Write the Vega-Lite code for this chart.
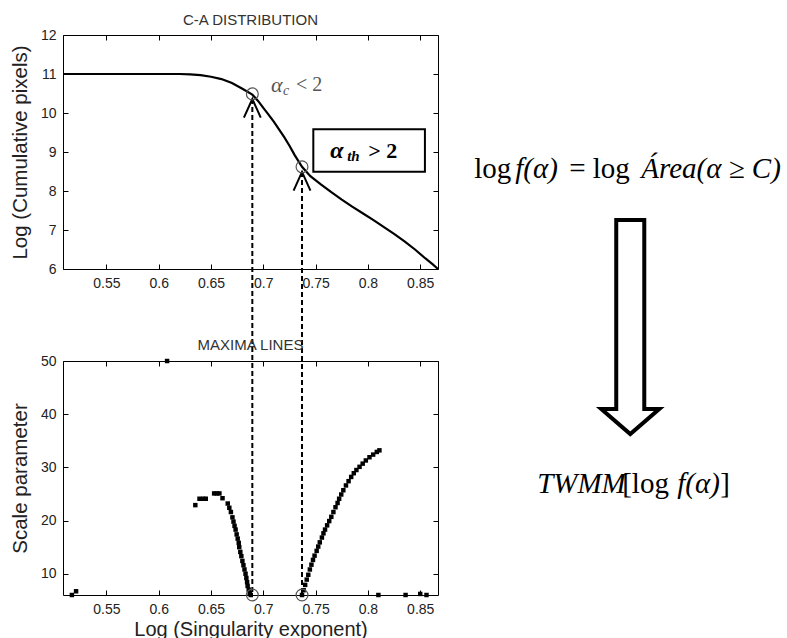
{
  "$schema": "https://vega.github.io/schema/vega-lite/v6.json",
  "background": "white",
  "padding": {"left": 9, "top": 12, "right": 2, "bottom": 0},
  "config": {
    "view": {"stroke": "black", "strokeWidth": 1},
    "font": "Liberation Sans",
    "axis": {"domain": false, "grid": false, "tickColor": "black", "tickSize": -5, "tickWidth": 1,
      "labelFont": "Liberation Sans", "labelFontSize": 14, "labelColor": "#222", "labelPadding": 12,
      "titleFont": "Liberation Sans", "titleFontSize": 20.5, "titleFontWeight": "normal", "titleColor": "#222"},
    "title": {"font": "Liberation Sans", "fontSize": 15, "fontWeight": "normal", "color": "#333", "anchor": "middle"}
  },
  "datasets": {
    "curve": [
      {"x":0.5085,"y":11.0},{"x":0.55,"y":11.0},{"x":0.6,"y":11.0},{"x":0.62,"y":11.0},{"x":0.63,"y":10.99},
      {"x":0.64,"y":10.97},{"x":0.65,"y":10.93},{"x":0.66,"y":10.87},{"x":0.67,"y":10.77},{"x":0.68,"y":10.62},
      {"x":0.6895,"y":10.47},{"x":0.695,"y":10.31},{"x":0.7,"y":10.13},{"x":0.705,"y":9.96},{"x":0.71,"y":9.78},
      {"x":0.715,"y":9.58},{"x":0.72,"y":9.38},{"x":0.725,"y":9.16},{"x":0.73,"y":8.92},{"x":0.737,"y":8.62},
      {"x":0.745,"y":8.38},{"x":0.755,"y":8.17},{"x":0.765,"y":7.97},{"x":0.775,"y":7.78},{"x":0.785,"y":7.6},
      {"x":0.795,"y":7.43},{"x":0.805,"y":7.26},{"x":0.815,"y":7.08},{"x":0.825,"y":6.9},{"x":0.835,"y":6.71},
      {"x":0.845,"y":6.5},{"x":0.855,"y":6.27},{"x":0.862,"y":6.12},{"x":0.867,"y":6.0}
    ],
    "maxima": [
      {"x":0.517,"y":6.0},{"x":0.521,"y":6.7},{"x":0.608,"y":50},
      {"x":0.635,"y":22.9},{"x":0.639,"y":24.1},{"x":0.6425,"y":24.1},{"x":0.645,"y":24.1},{"x":0.653,"y":25.1},
      {"x":0.6555,"y":25.1},{"x":0.658,"y":25.1},{"x":0.661,"y":24.2},{"x":0.666,"y":23.2},{"x":0.6675,"y":22.4},
      {"x":0.669,"y":21.6},{"x":0.6705,"y":20.6},{"x":0.6715,"y":19.8},{"x":0.6725,"y":19.0},{"x":0.6735,"y":18.3},
      {"x":0.6745,"y":17.4},{"x":0.6755,"y":16.6},{"x":0.6765,"y":15.8},{"x":0.677,"y":15.0},{"x":0.678,"y":14.1},
      {"x":0.679,"y":13.3},{"x":0.68,"y":12.4},{"x":0.681,"y":11.6},{"x":0.682,"y":10.8},{"x":0.683,"y":10.0},
      {"x":0.6838,"y":9.2},{"x":0.6845,"y":8.4},{"x":0.685,"y":7.7},{"x":0.686,"y":7.0},{"x":0.687,"y":6.4},{"x":0.688,"y":6.0},
      {"x":0.737,"y":6.0},{"x":0.7385,"y":6.9},{"x":0.74,"y":7.9},{"x":0.7415,"y":8.9},{"x":0.743,"y":9.8},
      {"x":0.7445,"y":10.8},{"x":0.746,"y":11.7},{"x":0.7475,"y":12.6},{"x":0.749,"y":13.4},{"x":0.751,"y":14.3},
      {"x":0.7525,"y":15.1},{"x":0.754,"y":15.9},{"x":0.756,"y":16.8},{"x":0.7575,"y":17.6},{"x":0.759,"y":18.3},
      {"x":0.761,"y":19.1},{"x":0.763,"y":19.9},{"x":0.765,"y":20.7},{"x":0.767,"y":21.6},{"x":0.769,"y":22.5},
      {"x":0.771,"y":23.3},{"x":0.7725,"y":24.1},{"x":0.7745,"y":24.9},{"x":0.7765,"y":25.7},{"x":0.779,"y":26.6},
      {"x":0.7815,"y":27.4},{"x":0.784,"y":28.2},{"x":0.7865,"y":28.9},{"x":0.789,"y":29.5},{"x":0.792,"y":30.1},
      {"x":0.795,"y":30.7},{"x":0.798,"y":31.3},{"x":0.8015,"y":31.9},{"x":0.805,"y":32.4},{"x":0.8085,"y":32.9},{"x":0.811,"y":33.2},
      {"x":0.81,"y":6.0},{"x":0.836,"y":6.0},{"x":0.85,"y":6.2},{"x":0.856,"y":6.0}
    ],
    "rules": [{"x":0.6895,"y":10.36,"y2":-2.333},{"x":0.737,"y":8.487,"y2":-2.333}],
    "chevrons": [{"x":0.6895,"y":10.12},{"x":0.737,"y":8.249}],
    "topCircles": [{"x":0.6895,"y":10.49},{"x":0.737,"y":8.62}],
    "bottomCircles": [{"x":0.6895,"y":6.0},{"x":0.737,"y":6.0}],
    "formula1": [
      {"t":"log","x":0.9016,"y":8.564,"it":false},
      {"t":"f(α)","x":0.9408,"y":8.564,"it":true},
      {"t":"= log","x":0.9924,"y":8.564,"it":false},
      {"t":"Área(α ≥ C)","x":1.0613,"y":8.564,"it":true}
    ],
    "formula2": [
      {"t":"TWMM","x":0.9618,"y":26.87,"it":true},
      {"t":"[log","x":1.0431,"y":26.87,"it":false},
      {"t":"f(α)","x":1.0957,"y":26.87,"it":true},
      {"t":"]","x":1.1368,"y":26.87,"it":false}
    ]
  },
  "bounds": "flush",
  "spacing": 92,
  "vconcat": [
    {
      "width": 375,
      "height": 234,
      "title": {"text": "C-A DISTRIBUTION", "offset": 0},
      "resolve": {"axis": {"x": "independent", "y": "independent"}},
      "layer": [
        {
          "data": {"name": "curve"},
          "mark": {"type": "line", "color": "black", "strokeWidth": 2.2},
          "encoding": {
            "x": {"field": "x", "type": "quantitative", "scale": {"domain": [0.5085, 0.867], "nice": false, "zero": false},
              "axis": {"values": [0.55,0.6,0.65,0.7,0.75,0.8,0.85], "format": ".2~f", "title": null, "labelOverlap": false}},
            "y": {"field": "y", "type": "quantitative", "scale": {"domain": [6, 12], "nice": false, "zero": false},
              "axis": {"values": [6,7,8,9,10,11,12], "title": "Log (Cumulative pixels)", "titlePadding": 10}}
          }
        },
        {
          "data": {"name": "curve"},
          "mark": {"type": "line", "opacity": 0},
          "encoding": {
            "x": {"field": "x", "type": "quantitative", "axis": {"orient": "top", "values": [0.55,0.6,0.65,0.7,0.75,0.8,0.85], "labels": false, "title": null}},
            "y": {"field": "y", "type": "quantitative", "axis": {"orient": "right", "values": [6,7,8,9,10,11,12], "labels": false, "title": null}}
          }
        },
        {
          "data": {"name": "rules"},
          "mark": {"type": "rule", "color": "black", "strokeWidth": 2, "strokeDash": [5, 3]},
          "encoding": {
            "x": {"field": "x", "type": "quantitative", "axis": null},
            "y": {"field": "y", "type": "quantitative", "axis": null},
            "y2": {"field": "y2"}
          }
        },
        {
          "data": {"name": "chevrons"},
          "mark": {"type": "point", "shape": "M-0.9,1L0,-1L0.9,1", "size": 350, "filled": false, "stroke": "black", "strokeWidth": 2, "opacity": 1},
          "encoding": {
            "x": {"field": "x", "type": "quantitative", "axis": null},
            "y": {"field": "y", "type": "quantitative", "axis": null}
          }
        },
        {
          "data": {"name": "topCircles"},
          "mark": {"type": "point", "shape": "circle", "size": 140, "filled": false, "stroke": "#555", "strokeWidth": 1.2, "opacity": 1},
          "encoding": {
            "x": {"field": "x", "type": "quantitative", "axis": null},
            "y": {"field": "y", "type": "quantitative", "axis": null}
          }
        },
        {
          "data": {"values": [{"x1": 0.7478, "x2": 0.8545, "y1": 9.582, "y2": 8.495}]},
          "mark": {"type": "rect", "fill": "white", "stroke": "black", "strokeWidth": 2},
          "encoding": {
            "x": {"field": "x1", "type": "quantitative", "axis": null},
            "x2": {"field": "x2"},
            "y": {"field": "y1", "type": "quantitative", "axis": null},
            "y2": {"field": "y2"}
          }
        },
        {
          "data": {"values": [{"t": "α", "x": 0.7074, "y": 10.72}]},
          "mark": {"type": "text", "align": "left", "baseline": "middle", "font": "Liberation Serif", "fontStyle": "italic", "fontSize": 22, "color": "#555"},
          "encoding": {"x": {"field": "x", "type": "quantitative", "axis": null}, "y": {"field": "y", "type": "quantitative", "axis": null}, "text": {"field": "t"}}
        },
        {
          "data": {"values": [{"t": "c", "x": 0.7074, "y": 10.72}]},
          "mark": {"type": "text", "align": "left", "baseline": "middle", "dx": 12, "dy": 6, "font": "Liberation Serif", "fontStyle": "italic", "fontSize": 14, "color": "#555"},
          "encoding": {"x": {"field": "x", "type": "quantitative", "axis": null}, "y": {"field": "y", "type": "quantitative", "axis": null}, "text": {"field": "t"}}
        },
        {
          "data": {"values": [{"t": "< 2", "x": 0.7074, "y": 10.72}]},
          "mark": {"type": "text", "align": "left", "baseline": "middle", "dx": 25, "font": "Liberation Serif", "fontSize": 20, "color": "#555"},
          "encoding": {"x": {"field": "x", "type": "quantitative", "axis": null}, "y": {"field": "y", "type": "quantitative", "axis": null}, "text": {"field": "t"}}
        },
        {
          "data": {"values": [{"t": "α", "x": 0.7639, "y": 9.026}]},
          "mark": {"type": "text", "align": "left", "baseline": "middle", "font": "Liberation Serif", "fontStyle": "italic", "fontWeight": "bold", "fontSize": 24, "color": "black"},
          "encoding": {"x": {"field": "x", "type": "quantitative", "axis": null}, "y": {"field": "y", "type": "quantitative", "axis": null}, "text": {"field": "t"}}
        },
        {
          "data": {"values": [{"t": "th", "x": 0.7639, "y": 9.026}]},
          "mark": {"type": "text", "align": "left", "baseline": "middle", "dx": 17, "dy": 5, "font": "Liberation Serif", "fontStyle": "italic", "fontWeight": "bold", "fontSize": 15, "color": "black"},
          "encoding": {"x": {"field": "x", "type": "quantitative", "axis": null}, "y": {"field": "y", "type": "quantitative", "axis": null}, "text": {"field": "t"}}
        },
        {
          "data": {"values": [{"t": "> 2", "x": 0.7639, "y": 9.026}]},
          "mark": {"type": "text", "align": "left", "baseline": "middle", "dx": 38, "font": "Liberation Serif", "fontWeight": "bold", "fontSize": 22, "color": "black"},
          "encoding": {"x": {"field": "x", "type": "quantitative", "axis": null}, "y": {"field": "y", "type": "quantitative", "axis": null}, "text": {"field": "t"}}
        },
        {
          "data": {"name": "formula1"},
          "transform": [{"filter": "!datum.it"}],
          "mark": {"type": "text", "align": "left", "baseline": "middle", "font": "Liberation Serif", "fontSize": 29, "color": "black"},
          "encoding": {"x": {"field": "x", "type": "quantitative", "axis": null}, "y": {"field": "y", "type": "quantitative", "axis": null}, "text": {"field": "t"}}
        },
        {
          "data": {"name": "formula1"},
          "transform": [{"filter": "datum.it"}],
          "mark": {"type": "text", "align": "left", "baseline": "middle", "font": "Liberation Serif", "fontStyle": "italic", "fontSize": 29, "color": "black"},
          "encoding": {"x": {"field": "x", "type": "quantitative", "axis": null}, "y": {"field": "y", "type": "quantitative", "axis": null}, "text": {"field": "t"}}
        },
        {
          "data": {"values": [{"x": 1.0508, "y": 4.513}]},
          "mark": {"type": "point", "shape": "M-0.131,-1L0.131,-1L0.131,0.766L0.271,0.766L0,1L-0.271,0.766L-0.131,0.766Z", "size": 45796, "filled": false, "stroke": "black", "strokeWidth": 4, "opacity": 1},
          "encoding": {"x": {"field": "x", "type": "quantitative", "axis": null}, "y": {"field": "y", "type": "quantitative", "axis": null}}
        }
      ]
    },
    {
      "width": 375,
      "height": 234,
      "title": {"text": "MAXIMA LINES", "offset": 1},
      "resolve": {"axis": {"x": "independent", "y": "independent"}},
      "layer": [
        {
          "data": {"name": "maxima"},
          "mark": {"type": "point", "shape": "square", "size": 20, "filled": true, "color": "black", "opacity": 1},
          "encoding": {
            "x": {"field": "x", "type": "quantitative", "scale": {"domain": [0.5085, 0.867], "nice": false, "zero": false},
              "axis": {"values": [0.55,0.6,0.65,0.7,0.75,0.8,0.85], "format": ".2~f", "title": "Log (Singularity exponent)", "titleFontSize": 20, "labelOverlap": false, "titlePadding": 3}},
            "y": {"field": "y", "type": "quantitative", "scale": {"domain": [6, 50], "nice": false, "zero": false},
              "axis": {"values": [10,20,30,40,50], "title": "Scale parameter", "titlePadding": 10}}
          }
        },
        {
          "data": {"name": "maxima"},
          "mark": {"type": "point", "opacity": 0},
          "encoding": {
            "x": {"field": "x", "type": "quantitative", "axis": {"orient": "top", "values": [0.55,0.6,0.65,0.7,0.75,0.8,0.85], "labels": false, "title": null}},
            "y": {"field": "y", "type": "quantitative", "axis": {"orient": "right", "values": [10,20,30,40,50], "labels": false, "title": null}}
          }
        },
        {
          "data": {"name": "bottomCircles"},
          "mark": {"type": "point", "shape": "circle", "size": 140, "filled": false, "stroke": "#555", "strokeWidth": 1.2, "opacity": 1},
          "encoding": {
            "x": {"field": "x", "type": "quantitative", "axis": null},
            "y": {"field": "y", "type": "quantitative", "axis": null}
          }
        },
        {
          "data": {"name": "formula2"},
          "transform": [{"filter": "!datum.it"}],
          "mark": {"type": "text", "align": "left", "baseline": "middle", "font": "Liberation Serif", "fontSize": 29, "color": "black"},
          "encoding": {"x": {"field": "x", "type": "quantitative", "axis": null}, "y": {"field": "y", "type": "quantitative", "axis": null}, "text": {"field": "t"}}
        },
        {
          "data": {"name": "formula2"},
          "transform": [{"filter": "datum.it"}],
          "mark": {"type": "text", "align": "left", "baseline": "middle", "font": "Liberation Serif", "fontStyle": "italic", "fontSize": 29, "color": "black"},
          "encoding": {"x": {"field": "x", "type": "quantitative", "axis": null}, "y": {"field": "y", "type": "quantitative", "axis": null}, "text": {"field": "t"}}
        }
      ]
    }
  ]
}
